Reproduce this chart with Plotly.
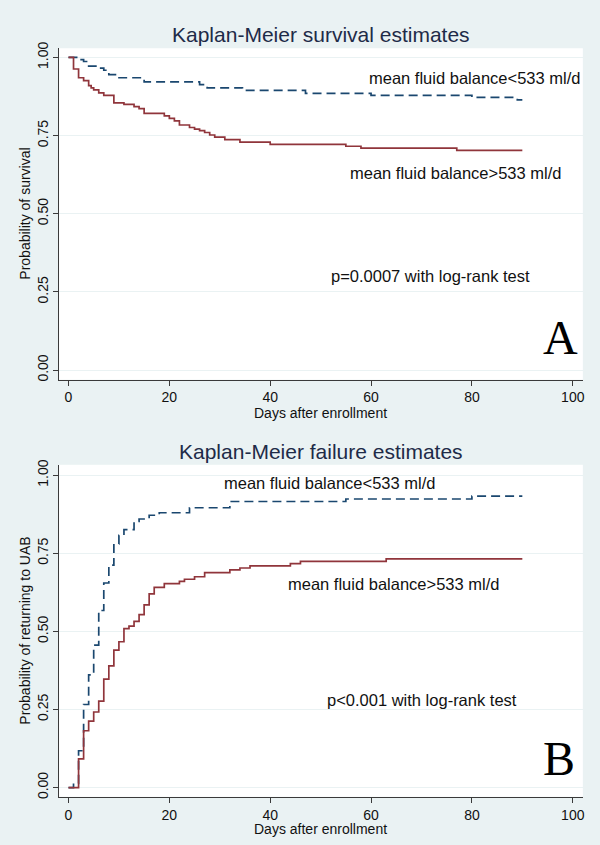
import plotly.graph_objects as go

# ---------------- data ----------------
# Panel A: Kaplan-Meier survival estimates
surv_low_days = [0, 2, 3, 4, 6, 7, 8, 9.5, 15, 26, 27.5, 34.5, 47, 60, 80, 89, 90]
surv_low_prob = [1.0, 0.993, 0.987, 0.972, 0.966, 0.959, 0.945, 0.935, 0.922, 0.913,
                 0.903, 0.895, 0.885, 0.879, 0.872, 0.864, 0.864]

surv_high_days = [0, 1, 2, 3, 4, 4.5, 5, 6, 7, 9, 11, 13, 14, 15, 19, 20, 21, 22, 24, 25,
                  26, 27, 28, 29, 31, 34, 40, 55, 58, 77, 90]
surv_high_prob = [1.0, 0.963, 0.935, 0.926, 0.910, 0.903, 0.896, 0.887, 0.879, 0.855, 0.850,
                  0.843, 0.836, 0.821, 0.813, 0.805, 0.797, 0.784, 0.776, 0.771, 0.766, 0.760,
                  0.752, 0.745, 0.737, 0.729, 0.722, 0.716, 0.710, 0.703, 0.703]

# Panel B: Kaplan-Meier failure estimates
fail_low_days = [0, 1, 2, 3, 4, 5, 6, 7, 8, 9, 10, 11, 13, 14, 16, 18, 24, 32, 55, 80, 90]
fail_low_prob = [0.0, 0.013, 0.118, 0.266, 0.361, 0.456, 0.567, 0.655, 0.712, 0.780, 0.808,
                 0.826, 0.852, 0.860, 0.872, 0.880, 0.896, 0.916, 0.924, 0.933, 0.933]

fail_high_days = [0, 2, 3, 4, 5, 6, 7, 8, 9, 10, 11, 12, 13, 14, 15, 16, 17, 19, 22, 23, 25,
                  27, 32, 34, 36, 44, 46, 63, 90]
fail_high_prob = [0.0, 0.092, 0.182, 0.213, 0.242, 0.277, 0.347, 0.390, 0.440, 0.467, 0.509,
                  0.517, 0.532, 0.554, 0.585, 0.620, 0.641, 0.653, 0.660, 0.667, 0.675, 0.688,
                  0.697, 0.703, 0.710, 0.717, 0.724, 0.732, 0.732]

y_ticks = [0, 0.25, 0.5, 0.75, 1.0]
y_tick_labels = ["0.00", "0.25", "0.50", "0.75", "1.00"]
x_ticks = [0, 20, 40, 60, 80, 100]

# ---------------- style ----------------
W, H = 600, 845
BG = "#eaf2f3"
RED = "#90353b"
BLUE = "#1a476f"
TITLE_COL = "#1e2b48"
FONT = "Liberation Sans, Arial, sans-serif"


def px(x):
    return x / W


def py(y):
    return 1 - y / H


fig = go.Figure()

fig.add_trace(go.Scatter(x=surv_low_days, y=surv_low_prob, mode="lines", line_shape="hv",
                         line=dict(color=BLUE, width=1.7, dash="9px,5px"),
                         xaxis="x", yaxis="y", showlegend=False, hoverinfo="skip"))
fig.add_trace(go.Scatter(x=surv_high_days, y=surv_high_prob, mode="lines", line_shape="hv",
                         line=dict(color=RED, width=1.7),
                         xaxis="x", yaxis="y", showlegend=False, hoverinfo="skip"))
fig.add_trace(go.Scatter(x=fail_low_days, y=fail_low_prob, mode="lines", line_shape="hv",
                         line=dict(color=BLUE, width=1.7, dash="9px,5px"),
                         xaxis="x2", yaxis="y2", showlegend=False, hoverinfo="skip"))
fig.add_trace(go.Scatter(x=fail_high_days, y=fail_high_prob, mode="lines", line_shape="hv",
                         line=dict(color=RED, width=1.7),
                         xaxis="x2", yaxis="y2", showlegend=False, hoverinfo="skip"))

x_dom = [px(59.3), px(584.8)]
top_dom = [py(376.7), py(41.7)]
bot_dom = [py(798.3), py(462.7)]

xaxis_common = dict(range=[-1.86, 102.0], tickvals=x_ticks, showgrid=False, zeroline=False,
                    showline=True, linecolor="#3a3a3a", linewidth=1, ticks="outside",
                    ticklen=5, tickcolor="#3a3a3a", tickfont=dict(family=FONT, size=14, color="#111"),
                    fixedrange=True)
yaxis_common = dict(tickvals=y_ticks, ticktext=y_tick_labels, tickangle=-90, showgrid=True,
                    gridcolor=BG, gridwidth=1, zeroline=False, showline=True,
                    linecolor="#3a3a3a", linewidth=1, ticks="outside", ticklen=5,
                    tickcolor="#3a3a3a", tickfont=dict(family=FONT, size=14, color="#111"),
                    fixedrange=True)

fig.update_layout(
    width=W, height=H,
    margin=dict(l=0, r=0, t=0, b=0),
    paper_bgcolor=BG, plot_bgcolor="white",
    xaxis=dict(domain=x_dom, anchor="y", **xaxis_common),
    yaxis=dict(domain=top_dom, anchor="x", range=[-0.0307, 1.0294], **yaxis_common),
    xaxis2=dict(domain=x_dom, anchor="y2", **xaxis_common),
    yaxis2=dict(domain=bot_dom, anchor="x2", range=[-0.0295, 1.0336], **yaxis_common),
)

ann = []


def add_text(text, x, y, size, color="#111", family=FONT, angle=0):
    ann.append(dict(text=text, x=px(x), y=py(y), xref="paper", yref="paper",
                    xanchor="center", yanchor="middle", showarrow=False, textangle=angle,
                    font=dict(family=family, size=size, color=color)))


# titles
add_text("Kaplan-Meier survival estimates", 322, 28.3, 21, TITLE_COL)
add_text("Kaplan-Meier failure estimates", 322, 449, 21, TITLE_COL)
# axis titles
add_text("Days after enrollment", 322, 410, 14)
add_text("Days after enrollment", 322, 831, 14)
add_text("Probability of survival", 25, 209, 14, angle=-90)
add_text("Probability of returning to UAB", 25, 630.5, 14, angle=-90)
# panel A text
add_text("mean fluid balance&lt;533 ml/d", 476.5, 71.7, 16.5)
add_text("mean fluid balance&gt;533 ml/d", 457, 167.3, 16.5)
add_text("p=0.0007 with log-rank test", 432, 271.7, 16.5)
add_text("A", 562.5, 334, 48, "#000", "Liberation Serif, Times New Roman, serif")
# panel B text
add_text("mean fluid balance&lt;533 ml/d", 331, 481, 16.5)
add_text("mean fluid balance&gt;533 ml/d", 395, 583.3, 16.5)
add_text("p&lt;0.001 with log-rank test", 423, 700, 16.5)
add_text("B", 560.5, 760, 48, "#000", "Liberation Serif, Times New Roman, serif")

fig.update_layout(annotations=ann)

fig.write_html(
    "out.html",
    config={"displayModeBar": False, "staticPlot": True},
    post_script="document.body.style.margin='0';document.body.style.overflow='hidden';",
)
